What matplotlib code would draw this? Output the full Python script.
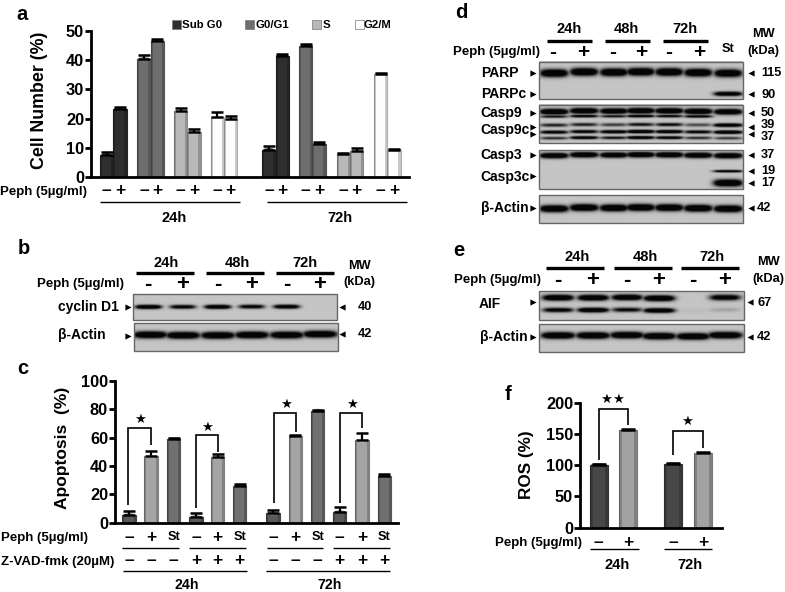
import numpy as np
import matplotlib
matplotlib.use("Agg")
import matplotlib.pyplot as plt
from matplotlib.patches import Ellipse

plt.rcParams['font.family'] = ['Liberation Sans', 'DejaVu Sans']
plt.rcParams['font.weight'] = 'bold'

W, H = 785, 592

# ---------- data: panel a ----------
phases = ['Sub G0', 'G0/G1', 'S', 'G2/M']
a_24_minus = [7.5, 40.5, 22.5, 20.5]
a_24_plus = [23.3, 46.5, 15.3, 20.0]
a_72_minus = [9.3, 44.8, 8.0, 35.2]
a_72_plus = [41.5, 11.3, 9.0, 9.2]
a_err_24_minus = [0.9, 1.3, 1.0, 1.8]
a_err_24_plus = [0.6, 0.8, 1.3, 0.9]
a_err_72_minus = [1.2, 0.7, 0.3, 0.4]
a_err_72_plus = [0.5, 0.7, 0.9, 0.3]

# ---------- data: panel c ----------
c_values = [5.5, 47, 59, 4, 46.5, 26, 6.5, 61, 79, 7.5, 58, 33]
c_errors = [3, 3.5, 1, 3, 2, 1, 2.5, 1, 0.7, 3.5, 5, 1.5]
c_peph = ['–', '+', 'St'] * 4
c_zvad = ['–', '–', '–', '+', '+', '+', '–', '–', '–', '+', '+', '+']

# ---------- data: panel f ----------
f_values = [101, 157, 102, 119]
f_errors = [1.5, 1.5, 1.5, 1.5]
f_peph = ['–', '+', '–', '+']

# ---------- data: blot band intensity per lane ----------
b_cyclin = [1.0, 0.75, 1.0, 0.75, 0.9, 0.0]
b_actin = [1, 1, 1, 1, 1, 1]
d_parp = [1, 1, 1, 1, 1, 1, 0.95]
d_parpc = [0, 0, 0, 0, 0, 0, 0.95]
d_c9a = [1, 1, 0.95, 1, 1, 1, 0.95]
d_c9b = [0.6, 0.8, 0.6, 0.85, 0.7, 0.75, 0]
d_c9c = [0.55, 0.55, 0.45, 0.6, 0.65, 0.4, 1]
d_c9d = [0.75, 0.75, 0.85, 1, 0.9, 0.7, 1]
d_c9e = [0.5, 0.85, 0.6, 0.95, 0.8, 0.5, 0.45]
d_c3 = [1, 1, 0.95, 1, 1, 1, 1]
d_c3b = [0, 0, 0, 0, 0, 0, 0.9]
d_c3c = [0, 0, 0, 0, 0, 0, 1]
d_actin = [1, 1, 1, 1, 1, 1, 1]
e_aif_top = [1, 1, 0.95, 1, 0, 0.8]
e_aif_low = [0.75, 1, 0.65, 1, 0.03, 0.1]
e_actin = [1, 1, 1, 1, 1, 1]

fig = plt.figure(figsize=(W / 100, H / 100), dpi=100, facecolor='white')


def px_axes(x0, x1, ytop, ybot, **kw):
    return fig.add_axes([x0 / W, 1 - ybot / H, (x1 - x0) / W, (ybot - ytop) / H], **kw)


def style_axes(ax, ticks, size=11.8, ticklen=4):
    for s in ['top', 'right']:
        ax.spines[s].set_visible(False)
    for s in ['left', 'bottom']:
        ax.spines[s].set_linewidth(2.0)
    ax.set_yticks(ticks)
    ax.tick_params(axis='y', width=2, length=ticklen, labelsize=size, pad=1)
    ax.set_xticks([])
    ax.patch.set_alpha(0)


def cyl_bars(ax, xs, vals, errs, colors, edges, caps, width, yspan, capw=4):
    for x, v, e, c, ed, cp in zip(xs, vals, errs, colors, edges, caps):
        ax.bar(x, v, width, color=c, edgecolor=ed, linewidth=0.8, zorder=2)
        ax.bar(x - width * 0.42, v, width * 0.16, color='black', alpha=0.2, zorder=2.1)
        ax.bar(x + width * 0.42, v, width * 0.16, color='black', alpha=0.2, zorder=2.1)
        ax.add_patch(Ellipse((x, v), width * 0.85, yspan * 0.025, color=cp, zorder=2.2, lw=0))
        ax.errorbar(x, v, yerr=[[0], [e]], color='black', elinewidth=1.6, capsize=capw,
                    capthick=1.8, zorder=3, fmt='none')


# ---------- panel a ----------
ax_a = px_axes(91, 409, 31, 177)
ax_a.set_xlim(91, 409)
ax_a.set_ylim(0, 50)
style_axes(ax_a, range(0, 51, 10))
a_col = ['#2e2e2e', '#6e6e6e', '#b9b9b9', '#fdfdfd']
a_edge = ['#222222', '#555555', '#8f8f8f', '#b0b0b0']
a_cap = ['#5a5a5a', '#a0a0a0', '#ececec', '#ffffff']
a_pairs = [100, 137.3, 174, 210.7, 262.3, 299, 336.7, 374]
a_bw = 13.3
a_x, a_v, a_e, a_c, a_d, a_p = [], [], [], [], [], []
for g, (mi, pl, emi, epl) in enumerate([(a_24_minus, a_24_plus, a_err_24_minus, a_err_24_plus),
                                        (a_72_minus, a_72_plus, a_err_72_minus, a_err_72_plus)]):
    for i in range(4):
        s = a_pairs[g * 4 + i]
        a_x += [s + a_bw / 2, s + a_bw * 1.5]
        a_v += [mi[i], pl[i]]
        a_e += [emi[i], epl[i]]
        a_c += [a_col[i]] * 2
        a_d += [a_edge[i]] * 2
        a_p += [a_cap[i]] * 2
cyl_bars(ax_a, a_x, a_v, a_e, a_c, a_d, a_p, a_bw, 50, capw=4.5)

# ---------- panel c ----------
ax_c = px_axes(115, 398, 380.7, 522.7)
ax_c.set_xlim(115, 398)
ax_c.set_ylim(0, 100)
style_axes(ax_c, range(0, 101, 20))
c_x = [129, 151, 173.7, 196, 217.7, 239.7, 273, 295.3, 317.7, 339.7, 362, 384.3]
cyl_bars(ax_c, c_x, c_values, c_errors,
         ['#5a5a5a', '#a4a4a4', '#707070'] * 4, ['#444444', '#808080', '#555555'] * 4,
         ['#909090', '#f2f2f2', '#b0b0b0'] * 4, 13.5, 100, capw=4.5)

# ---------- panel f ----------
ax_f = px_axes(580, 722, 402.7, 527.7)
ax_f.set_xlim(580, 722)
ax_f.set_ylim(0, 200)
style_axes(ax_f, range(0, 201, 50))
f_x = [598.7, 628.3, 673.3, 703.3]
cyl_bars(ax_f, f_x, f_values, f_errors,
         ['#484848', '#a2a2a2'] * 2, ['#333333', '#7a7a7a'] * 2,
         ['#808080', '#f4f4f4'] * 2, 18, 200, capw=5)

# ---------- overlay in pixel coordinates ----------
ov = fig.add_axes([0, 0, 1, 1], zorder=5)
ov.patch.set_alpha(0)
ov.axis('off')


def T(x, y, s, size=9.5, ha='center', **kw):
    ov.text(x, y, s, fontsize=size, ha=ha, va='center', color='black', **kw)


def L(xs, ys, lw=1.0):
    ov.plot(xs, ys, color='black', lw=lw, solid_capstyle='butt', solid_joinstyle='miter')


def signs(xs, labels, y, size=12):
    for x, s in zip(xs, labels):
        T(x, y, s, size=9.2 if s == 'St' else size)


def arrows(x, ys, marker):
    ov.scatter([x] * len(ys), ys, marker=marker, s=20, color='black', lw=0)


def blot(x0, x1, y0, y1, lanes, hw, rows):
    """rows: (y px, half-thickness px, intensities per lane)"""
    sc = 2
    xx = np.linspace(x0, x1, int((x1 - x0) * sc))
    yy = np.linspace(y0, y1, int((y1 - y0) * sc))
    X, Y = np.meshgrid(xx, yy)
    dark = np.zeros_like(X)
    for yc, th, vals in rows:
        for c, v in zip(lanes, vals):
            if v > 0:
                sh = 0.6 * np.sin(c * 0.9) * th / 3
                b = v * np.exp(-(np.abs(X - c) / hw) ** 4) * np.exp(-((Y - yc - sh) / th) ** 2)
                dark = np.maximum(dark, np.clip(b * 1.7, 0, 1))
    img = 0.75 * (1 - dark) + 0.02
    ov.imshow(img, extent=(x0, x1, y1, y0), cmap='gray', vmin=0, vmax=1, aspect='auto',
              interpolation='bilinear', zorder=1)
    L([x0, x1, x1, x0, x0], [y0, y0, y1, y1, y0], lw=1.0)
    ov.lines[-1].set_color('#666666')


# panel letters
for x, y, s in [(22, 14, 'a'), (24, 249, 'b'), (23, 369, 'c'), (461, 13, 'd'), (459, 251, 'e'), (508, 395, 'f')]:
    T(x, y, s, size=14.5)

# --- a annotations ---
T(40, 100, 'Cell Number (%)', size=12.8, rotation=90)
for sx, tx, name, c in zip([172, 245, 312, 355], [182, 255, 323, 364], phases, a_col):
    ov.fill([sx, sx + 8.5, sx + 8.5, sx], [20, 20, 28.5, 28.5], facecolor=c, edgecolor='#777777', lw=0.5)
    T(tx, 24.5, name, size=8.2, ha='left')
T(87, 191.5, 'Peph (5µg/ml)', ha='right')
signs(a_x, ['–', '+'] * 8, 190.5, size=12.5)
L([100, 240], [202, 202])
L([267, 407], [202, 202])
T(174, 218, '24h', size=10.5)
T(340, 218, '72h', size=10.5)

# --- b ---
for x, s in zip([166, 237, 305], ['24h', '48h', '72h']):
    T(x, 263, s, size=10.5)
for a, b in [(135.5, 193.7), (206, 264), (276, 334)]:
    L([a, b], [272.5, 272.5], lw=2.4)
T(359, 266, 'MW', size=9.2)
T(359, 282, '(kDa)', size=9.2)
T(124, 284, 'Peph (5µg/ml)', ha='right')
b_lanes = [148.3, 182.7, 217.7, 251.7, 286.7, 320]
signs(b_lanes, ['-', '+'] * 3, 285, size=16)
blot(133, 337, 294, 320, [148.3, 182.7, 217.7, 251.7, 286.7, 320], 13, [(306.5, 2.0, b_cyclin)])
blot(133.7, 337.7, 323.3, 351.3, [150, 182.7, 217.7, 251.7, 286.7, 320], 17, [(335, 3.4, b_actin)])
T(58, 307, 'cyclin D1', size=10, ha='left')
T(58, 335, 'β-Actin', size=10, ha='left')
arrows(128, [307, 336], '>')
arrows(342, [307, 334], '<')
T(365, 307, '40', size=9.2)
T(365, 334, '42', size=9.2)

# --- c ---
T(62, 447.7, 'Apoptosis  (%)', size=12.5, rotation=90)
T(1, 538.5, 'Peph (5µg/ml)', ha='left')
T(1, 561.5, 'Z-VAD-fmk (20µM)', ha='left')
signs(c_x, c_peph, 537.5, size=12.5)
signs(c_x, c_zvad, 560.5, size=12.5)
for a, b in [(122.3, 179.3), (189, 245.7), (266.7, 323.3), (333.3, 390)]:
    L([a, b], [548.3, 548.3])
for a, b in [(123.3, 247.3), (265.7, 390)]:
    L([a, b], [571, 571])
T(187, 585, '24h', size=10.2)
T(330, 585, '72h', size=10.2)
for x0, b0, top, x1, b1, st in [(127.7, 505, 427.7, 151, 445, 140), (195.7, 508, 435, 218.3, 451.7, 207),
                                (274, 502.7, 412.7, 296.3, 432.3, 286), (340, 502.7, 412.7, 362, 428, 352)]:
    L([x0, x0, x1, x1], [b0, top, top, b1], lw=1.2)
    T(st, top - 8, '★', size=9.5, family='DejaVu Sans')

# --- d ---
for x, s in zip([569.3, 626, 685], ['24h', '48h', '72h']):
    T(x, 29, s, size=10.5)
for a, b in [(547, 592), (604.7, 650), (662.7, 708)]:
    L([a, b], [41, 41], lw=2.4)
T(728, 49, 'St', size=9.2)
T(763, 34, 'MW', size=9.2)
T(763, 51, '(kDa)', size=9.2)
T(540, 51.5, 'Peph (5µg/ml)', ha='right')
signs([553, 583, 613, 641, 669, 699], ['-', '+'] * 3, 52, size=15)
d_lanes = [554, 584, 614, 640.7, 669.3, 698.3, 728.3]
blot(539, 743, 61.7, 99.3, d_lanes, 14, [(73, 3.8, d_parp), (94, 2.1, d_parpc)])
blot(539, 743, 105, 143.3, d_lanes, 14.5,
     [(112, 2.8, d_c9a), (117, 1.4, d_c9b), (125.5, 1.7, d_c9c), (132.5, 1.7, d_c9d), (138.5, 1.5, d_c9e)])
blot(539, 743, 150, 189, d_lanes, 14.5, [(155, 2.7, d_c3), (171, 1.2, d_c3b), (182.5, 3.5, d_c3c)])
blot(539, 743, 195, 222.7, d_lanes, 14.5, [(208, 3.4, d_actin)])
for y, s in [(73, 'PARP'), (94.5, 'PARPc'), (113, 'Casp9'), (130, 'Casp9c'), (155, 'Casp3'), (177, 'Casp3c'), (208, 'β-Actin')]:
    T(480.7, y, s, size=10, ha='left')
arrows(533, [73, 94, 113, 127, 134, 155, 176, 208], '>')
arrows(750.7, [73, 94, 113, 127, 134, 155, 171, 183, 208], '<')
for x, y, s in [(761, 73, '115'), (761, 94.5, '90'), (761, 113, '50'), (761, 125, '39'), (761, 137, '37'),
                (761, 155, '37'), (761, 171, '19'), (761, 183.5, '17'), (757, 208, '42')]:
    T(x, y, s, size=9.2, ha='left')

# --- e ---
for x, s in zip([576.7, 645, 711.7], ['24h', '48h', '72h']):
    T(x, 257, s, size=10.5)
for a, b in [(546, 604), (614, 672), (680.7, 738.7)]:
    L([a, b], [268, 268], lw=2.4)
T(768, 262, 'MW', size=9.2)
T(768, 279, '(kDa)', size=9.2)
T(541, 279.5, 'Peph (5µg/ml)', ha='right')
e_lanes = [558, 593, 627, 659, 693, 725]
signs(e_lanes, ['-', '+'] * 3, 280, size=16)
blot(539, 743.7, 290.7, 319.7, e_lanes, 15.5, [(297.5, 2.9, e_aif_top), (310, 2.3, e_aif_low)])
blot(539, 743.7, 324.3, 352.3, e_lanes, 17, [(336, 3.3, e_actin)])
T(479, 304, 'AIF', size=10, ha='left')
T(480, 337, 'β-Actin', size=10, ha='left')
arrows(533, [302, 337], '>')
arrows(750, [302, 337], '<')
T(757, 303, '67', size=9.2, ha='left')
T(757, 337, '42', size=9.2, ha='left')

# --- f ---
T(526.7, 465, 'ROS (%)', size=12.3, rotation=90)
T(581.7, 543, 'Peph (5µg/ml)', ha='right')
signs(f_x, f_peph, 542.5, size=12.5)
L([590, 639], [549.3, 549.3])
L([663.7, 712], [549.3, 549.3])
T(616.7, 565, '24h', size=10.5)
T(690, 565, '72h', size=10.5)
L([599, 599, 628.3, 628.3], [460, 409, 409, 425], lw=1.2)
L([673, 673, 702.7, 702.7], [455, 431, 431, 447.7], lw=1.2)
T(605.7, 399, '★', size=9.5, family='DejaVu Sans')
T(618, 399, '★', size=9.5, family='DejaVu Sans')
T(687, 421.7, '★', size=9.5, family='DejaVu Sans')

ov.set_xlim(0, W)
ov.set_ylim(H, 0)

fig.savefig('out.png', dpi=100)
